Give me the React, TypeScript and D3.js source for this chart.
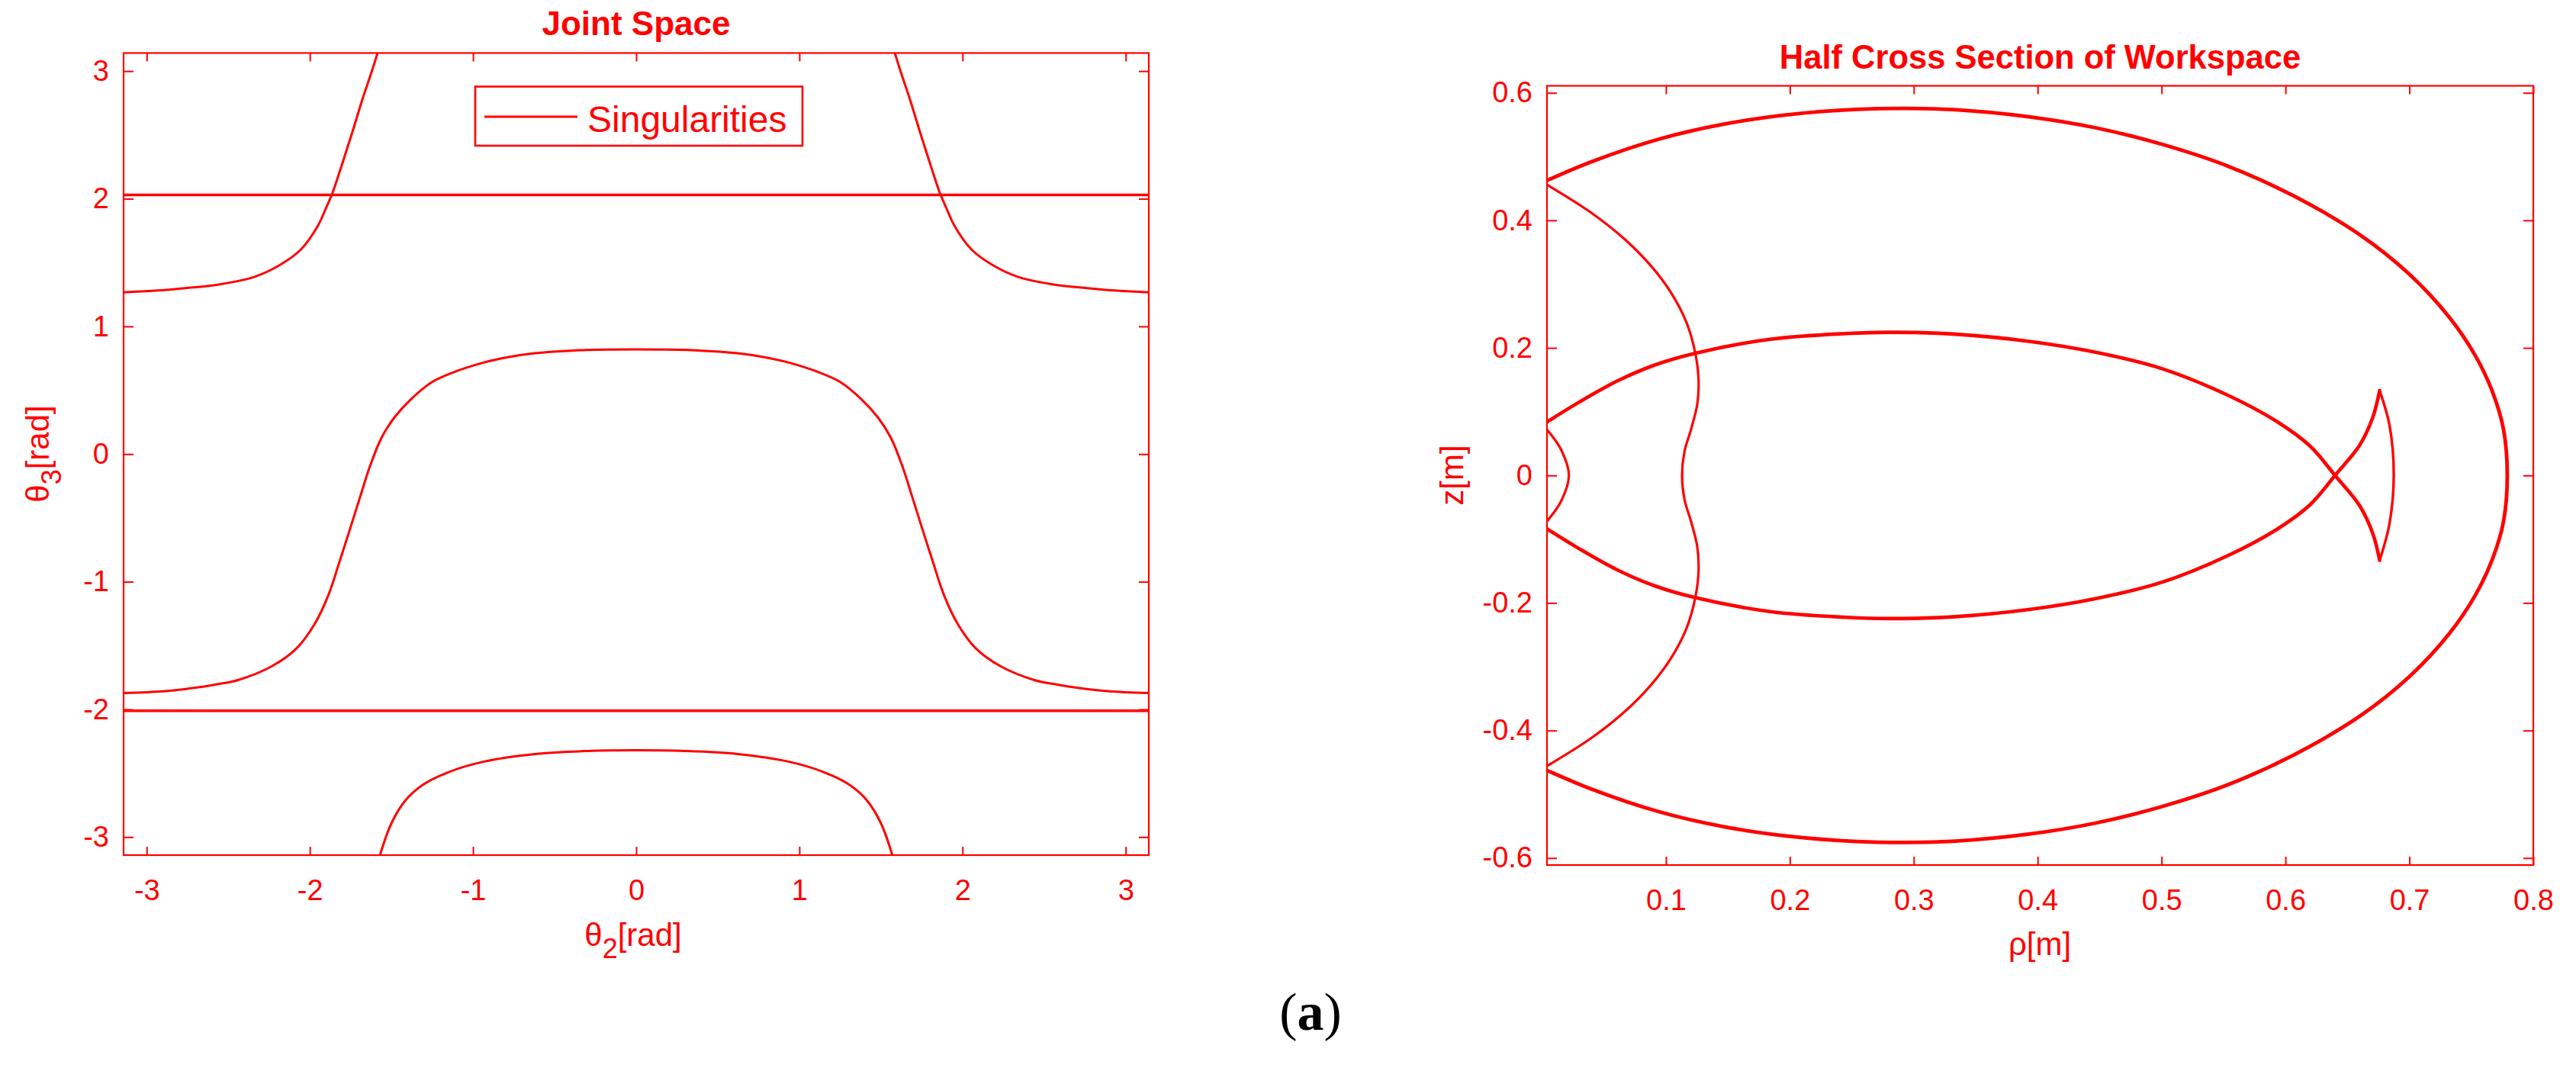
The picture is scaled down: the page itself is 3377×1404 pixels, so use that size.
import { useEffect, useRef } from "react"
import * as d3 from "d3"

type Pt = [number, number]

const W = 3377
const H = 1404
const RED = "#ff0000"
const FONT = "'Liberation Sans', Arial, Helvetica, sans-serif"
const PI = 3.1416

// ---- Joint Space (theta2, theta3) ----
const jointTicks = [-3, -2, -1, 0, 1, 2, 3]

const jointLineHigh: Pt[] = [
  [-PI, 2.03],
  [PI, 2.03],
]
const jointLineLow: Pt[] = [
  [-PI, -2.01],
  [PI, -2.01],
]

const jointMiddle: Pt[] = [
  [-3.1416, -1.872], [-2.9, -1.858], [-2.76, -1.84], [-2.6, -1.81], [-2.44, -1.77],
  [-2.23, -1.66], [-2.08, -1.52], [-1.97, -1.33], [-1.885, -1.1], [-1.82, -0.85],
  [-1.757, -0.6], [-1.693, -0.34], [-1.63, -0.09], [-1.56, 0.13], [-1.48, 0.29],
  [-1.38, 0.43], [-1.25, 0.565], [-1.1, 0.65], [-0.94, 0.715], [-0.78, 0.76],
  [-0.62, 0.79], [-0.4, 0.81], [-0.19, 0.818], [0, 0.82], [0.19, 0.818],
  [0.4, 0.81], [0.62, 0.79], [0.78, 0.76], [0.94, 0.715], [1.1, 0.65],
  [1.25, 0.565], [1.38, 0.43], [1.48, 0.29], [1.56, 0.13], [1.63, -0.09],
  [1.693, -0.34], [1.757, -0.6], [1.82, -0.85], [1.885, -1.1], [1.97, -1.33],
  [2.08, -1.52], [2.23, -1.66], [2.44, -1.77], [2.6, -1.81], [2.76, -1.84],
  [2.9, -1.858], [3.1416, -1.872],
]

const jointUpperLeft: Pt[] = [
  [-3.1416, 1.267], [-2.95, 1.28], [-2.764, 1.3], [-2.55, 1.33], [-2.335, 1.39],
  [-2.185, 1.48], [-2.057, 1.6], [-1.95, 1.79], [-1.9, 1.93], [-1.86, 2.05],
  [-1.8, 2.28], [-1.74, 2.52], [-1.68, 2.77], [-1.62, 3.0], [-1.585, 3.1416],
]
const jointUpperRight: Pt[] = [
  [3.1416, 1.267], [2.95, 1.28], [2.764, 1.3], [2.55, 1.33], [2.335, 1.39],
  [2.185, 1.48], [2.057, 1.6], [1.95, 1.79], [1.9, 1.93], [1.86, 2.05],
  [1.8, 2.28], [1.74, 2.52], [1.68, 2.77], [1.62, 3.0], [1.585, 3.1416],
]

const jointLowerArc: Pt[] = [
  [-1.57, -3.1416], [-1.5, -2.892], [-1.414, -2.713], [-1.307, -2.591], [-1.157, -2.495],
  [-0.943, -2.412], [-0.621, -2.35], [-0.3, -2.326], [0, -2.32], [0.3, -2.326],
  [0.621, -2.35], [0.943, -2.412], [1.157, -2.495], [1.307, -2.591], [1.414, -2.713],
  [1.5, -2.892], [1.57, -3.1416],
]

// ---- Half cross section of workspace (rho, z) ----
const rhoTicks = [0.1, 0.2, 0.3, 0.4, 0.5, 0.6, 0.7, 0.8]
const zTicks = [-0.6, -0.4, -0.2, 0, 0.2, 0.4, 0.6]

const wsOuter: Pt[] = [
  [0.004, 0.4625], [0.04, 0.492], [0.0936, 0.527], [0.147, 0.551], [0.2, 0.566],
  [0.254, 0.574], [0.294, 0.5755], [0.334, 0.5735], [0.393, 0.5625], [0.446, 0.5455],
  [0.5, 0.5195], [0.553, 0.4855], [0.6065, 0.4385], [0.66, 0.3775], [0.7, 0.3155],
  [0.732, 0.2485], [0.753, 0.1885], [0.767, 0.1315], [0.776, 0.072], [0.779, 0],
  [0.776, -0.072], [0.767, -0.1315], [0.753, -0.1885], [0.732, -0.2485], [0.7, -0.3155],
  [0.66, -0.3775], [0.6065, -0.4385], [0.553, -0.4855], [0.5, -0.5195], [0.446, -0.5455],
  [0.393, -0.5625], [0.334, -0.5735], [0.294, -0.5755], [0.254, -0.574], [0.2, -0.566],
  [0.147, -0.551], [0.0936, -0.527], [0.04, -0.492], [0.004, -0.4625],
]

const wsInnerUpper: Pt[] = [
  [0.004, 0.0838], [0.03, 0.115], [0.0606, 0.148], [0.0914, 0.1735], [0.1233, 0.1915],
  [0.184, 0.2135], [0.2453, 0.2225], [0.28, 0.2245], [0.334, 0.2215], [0.393, 0.2103],
  [0.446, 0.1935], [0.5, 0.1677], [0.553, 0.1262], [0.593, 0.0846], [0.62, 0.0457],
  [0.64, 0], [0.66, -0.0478], [0.6706, -0.0918], [0.676, -0.133],
]
const wsFishBack: Pt[] = [
  [0.676, -0.133], [0.6839, -0.0762], [0.6874, 0], [0.6839, 0.0795], [0.676, 0.133],
]
const wsInnerLower: Pt[] = [
  [0.676, 0.133], [0.6706, 0.0918], [0.66, 0.0478], [0.64, 0], [0.62, -0.0457],
  [0.593, -0.0846], [0.553, -0.1262], [0.5, -0.1677], [0.446, -0.1935], [0.393, -0.2103],
  [0.334, -0.2215], [0.28, -0.2245], [0.2453, -0.2225], [0.184, -0.2135], [0.1233, -0.1915],
  [0.0914, -0.1735], [0.0606, -0.148], [0.03, -0.115], [0.004, -0.0838],
]

const wsInnerS: Pt[] = [
  [0.004, 0.4558], [0.04, 0.4116], [0.067, 0.37], [0.088, 0.3285], [0.104, 0.287],
  [0.1165, 0.2403], [0.1235, 0.1937], [0.1263, 0.1515], [0.1253, 0.1117], [0.1202, 0.0718],
  [0.115, 0.038], [0.113, 0], [0.115, -0.038], [0.1202, -0.0718], [0.1253, -0.1117],
  [0.1263, -0.1515], [0.1235, -0.1937], [0.1165, -0.2403], [0.104, -0.287], [0.088, -0.3285],
  [0.067, -0.37], [0.04, -0.4116], [0.004, -0.4558],
]

const wsLens: Pt[] = [
  [0.004, 0.0718], [0.0155, 0.04], [0.0217, 0], [0.0155, -0.04], [0.004, -0.0718],
]

type Sel = d3.Selection<SVGGElement, unknown, null, undefined>
type Lin = d3.ScaleLinear<number, number>

function drawFrame(g: Sel, x: Lin, y: Lin, xTicks: number[], yTicks: number[]) {
  const [x0, x1] = x.range()
  const [y0, y1] = y.range()
  const fmt = (d: d3.NumberValue) => String(d)

  const axes = [
    g.append("g").attr("transform", `translate(0,${y0})`)
      .call(d3.axisBottom(x).tickValues(xTicks).tickSizeInner(-11).tickSizeOuter(0).tickPadding(32).tickFormat(fmt)),
    g.append("g").attr("transform", `translate(0,${y1})`)
      .call(d3.axisTop(x).tickValues(xTicks).tickSizeInner(-11).tickSizeOuter(0).tickFormat(() => "")),
    g.append("g").attr("transform", `translate(${x0},0)`)
      .call(d3.axisLeft(y).tickValues(yTicks).tickSizeInner(-13).tickSizeOuter(0).tickPadding(19).tickFormat(fmt)),
    g.append("g").attr("transform", `translate(${x1},0)`)
      .call(d3.axisRight(y).tickValues(yTicks).tickSizeInner(-13).tickSizeOuter(0).tickFormat(() => "")),
  ]
  axes.forEach((a) => {
    a.select(".domain").remove()
    a.attr("font-family", FONT).attr("font-size", 38)
    a.selectAll("line").attr("stroke", RED).attr("stroke-width", 2)
    a.selectAll("text").attr("fill", RED)
  })

  g.append("rect")
    .attr("x", x0)
    .attr("y", y1)
    .attr("width", x1 - x0)
    .attr("height", y0 - y1)
    .attr("fill", "none")
    .attr("stroke", RED)
    .attr("stroke-width", 2.2)
}

function drawCurves(g: Sel, x: Lin, y: Lin, id: string, curves: { pts: Pt[]; w: number }[]) {
  const [x0, x1] = x.range()
  const [y0, y1] = y.range()
  g.append("clipPath").attr("id", id)
    .append("rect").attr("x", x0).attr("y", y1).attr("width", x1 - x0).attr("height", y0 - y1)

  const line = d3.line<Pt>()
    .x((d) => x(d[0]))
    .y((d) => y(d[1]))
    .curve(d3.curveCatmullRom.alpha(0.5))

  const cg = g.append("g").attr("clip-path", `url(#${id})`)
  curves.forEach((c) => {
    cg.append("path")
      .datum(c.pts)
      .attr("fill", "none")
      .attr("stroke", RED)
      .attr("stroke-width", c.w)
      .attr("stroke-linejoin", "round")
      .attr("stroke-linecap", "round")
      .attr("d", line)
  })
}

function label(g: Sel, parts: { t: string; size: number; dy?: number }[], tx: number, ty: number, rotate = false) {
  const text = g.append("text")
    .attr("transform", `translate(${tx},${ty})${rotate ? " rotate(-90)" : ""}`)
    .attr("text-anchor", "middle")
    .attr("font-family", FONT)
    .attr("fill", RED)
  parts.forEach((p) => {
    text.append("tspan").attr("font-size", p.size).attr("dy", p.dy ?? 0).text(p.t)
  })
}

export default function App() {
  const svgRef = useRef<SVGSVGElement>(null)

  useEffect(() => {
    if (!svgRef.current) return
    const svg = d3.select(svgRef.current)
    svg.selectAll("*").remove()
    const root = svg.append("g") as unknown as Sel

    // left panel
    const jx = d3.scaleLinear().domain([-PI, PI]).range([162, 1506])
    const jy = d3.scaleLinear().domain([-PI, PI]).range([1121, 69.5])
    const left = root.append("g")

    drawCurves(left, jx, jy, "clip-joint", [
      { pts: jointLineHigh, w: 3.5 },
      { pts: jointLineLow, w: 3.5 },
      { pts: jointMiddle, w: 3 },
      { pts: jointUpperLeft, w: 3 },
      { pts: jointUpperRight, w: 3 },
      { pts: jointLowerArc, w: 3 },
    ])
    drawFrame(left, jx, jy, jointTicks, jointTicks)

    left.append("text")
      .attr("x", (jx.range()[0] + jx.range()[1]) / 2)
      .attr("y", 46)
      .attr("text-anchor", "middle")
      .attr("font-family", FONT)
      .attr("font-weight", "bold")
      .attr("font-size", 44)
      .attr("fill", RED)
      .text("Joint Space")

    label(left, [{ t: "θ", size: 42 }, { t: "2", size: 36, dy: 16 }, { t: "[rad]", size: 42, dy: -16 }], 830, 1240)
    label(left, [{ t: "θ", size: 42 }, { t: "3", size: 36, dy: 16 }, { t: "[rad]", size: 42, dy: -16 }], 64, 595, true)

    // legend
    const lg = left.append("g")
    lg.append("rect")
      .attr("x", 623).attr("y", 113.5).attr("width", 429).attr("height", 77.5)
      .attr("fill", "#fff").attr("stroke", RED).attr("stroke-width", 2.6)
    lg.append("line")
      .attr("x1", 635).attr("x2", 757).attr("y1", 153).attr("y2", 153)
      .attr("stroke", RED).attr("stroke-width", 3)
    lg.append("text")
      .attr("x", 770).attr("y", 172.5)
      .attr("font-family", FONT).attr("font-size", 48).attr("fill", RED)
      .text("Singularities")

    // right panel
    const wx = d3.scaleLinear().domain([0.004, 0.8]).range([2028, 3321])
    const wy = d3.scaleLinear().domain([-0.611, 0.611]).range([1134, 112.5])
    const right = root.append("g")

    drawCurves(right, wx, wy, "clip-ws", [
      { pts: wsOuter, w: 4.8 },
      { pts: wsInnerUpper, w: 4.6 },
      { pts: wsInnerLower, w: 4.6 },
      { pts: wsFishBack, w: 3.4 },
      { pts: wsInnerS, w: 3.2 },
      { pts: wsLens, w: 3.2 },
    ])
    drawFrame(right, wx, wy, rhoTicks, zTicks)

    right.append("text")
      .attr("x", (wx.range()[0] + wx.range()[1]) / 2)
      .attr("y", 89.5)
      .attr("text-anchor", "middle")
      .attr("font-family", FONT)
      .attr("font-weight", "bold")
      .attr("font-size", 43.5)
      .attr("fill", RED)
      .text("Half Cross Section of Workspace")

    label(right, [{ t: "ρ[m]", size: 42 }], 2674, 1252)
    label(right, [{ t: "z[m]", size: 42 }], 1918, 623, true)

    // sub-figure tag
    const tag = root.append("text")
      .attr("x", 1718).attr("y", 1350)
      .attr("text-anchor", "middle")
      .attr("font-family", "'Liberation Serif', 'Times New Roman', serif")
      .attr("font-size", 70)
      .attr("fill", "#000")
    tag.append("tspan").text("(")
    tag.append("tspan").attr("font-weight", "bold").text("a")
    tag.append("tspan").text(")")
  }, [])

  return (
    <svg
      ref={svgRef}
      width={W}
      height={H}
      style={{ position: "absolute", left: 0, top: 0, background: "#fff" }}
    />
  )
}
